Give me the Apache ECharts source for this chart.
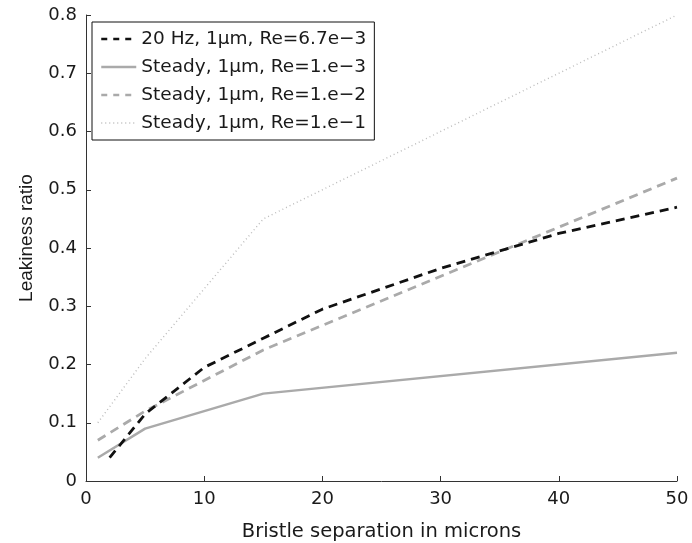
<!DOCTYPE html>
<html>
<head>
<meta charset="utf-8">
<script src="https://cdn.jsdelivr.net/npm/echarts@6/dist/echarts.min.js"></script>
<style>html,body{margin:0;padding:0;background:#fff}#c{width:692px;height:543px}</style>
</head>
<body>
<div id="c"></div>
<script>
// Data
const seriesNames = [
  '20 Hz, 1\u03bcm, Re=6.7e\u22123',
  'Steady, 1\u03bcm, Re=1.e\u22123',
  'Steady, 1\u03bcm, Re=1.e\u22122',
  'Steady, 1\u03bcm, Re=1.e\u22121'
];
const x20Hz = [2, 5, 10, 15, 20, 30, 40, 50];
const y20Hz = [0.04, 0.115, 0.195, 0.245, 0.295, 0.365, 0.425, 0.47];
const xSteady = [1, 5, 15, 50];
const ySteadyRe3 = [0.04, 0.09, 0.15, 0.22];
const ySteadyRe2 = [0.07, 0.12, 0.225, 0.52];
const ySteadyRe1 = [0.10, 0.21, 0.45, 0.80];
const xTicks = [0, 10, 20, 30, 40, 50];
const yTicks = [0, 0.1, 0.2, 0.3, 0.4, 0.5, 0.6, 0.7, 0.8];

const pair = (xs, ys) => xs.map((x, i) => [x, ys[i]]);
const FONT = 'DejaVu Sans';
const axisColor = '#333';
const hiddenSymbol = {color: 'rgba(0,0,0,0)', opacity: 0, borderWidth: 0};

const chart = echarts.init(document.getElementById('c'), null, {renderer: 'canvas'});
chart.setOption({
  animation: false,
  backgroundColor: '#fff',
  grid: {left: 86, right: 15, top: 15, bottom: 62, containLabel: false, outerBoundsMode: 'none'},
  xAxis: {
    type: 'value',
    min: xTicks[0], max: xTicks[xTicks.length - 1], interval: 10,
    name: 'Bristle separation in microns',
    nameLocation: 'middle', nameGap: 41,
    nameTextStyle: {fontFamily: FONT, fontSize: 19.5, color: '#1a1a1a'},
    axisLine: {show: true, lineStyle: {color: axisColor, width: 1}},
    axisTick: {show: true, inside: true, length: 5, lineStyle: {color: axisColor}},
    axisLabel: {fontFamily: FONT, fontSize: 18, color: '#1a1a1a', margin: 9},
    splitLine: {show: false}
  },
  yAxis: {
    type: 'value',
    min: yTicks[0], max: yTicks[yTicks.length - 1], interval: 0.1,
    name: 'Leakiness ratio',
    nameLocation: 'middle', nameGap: 50,
    nameTextStyle: {fontFamily: 'Liberation Sans', fontSize: 19, color: '#1a1a1a', padding: [0, 0, 0, 20]},
    axisLine: {show: true, lineStyle: {color: axisColor, width: 1}},
    axisTick: {show: true, inside: true, length: 5, lineStyle: {color: axisColor}},
    axisLabel: {fontFamily: FONT, fontSize: 18, color: '#1a1a1a', margin: 9},
    splitLine: {show: false}
  },
  legend: {
    orient: 'vertical',
    left: 92, top: 22,
    padding: [7, 8, 7, 8],
    itemWidth: 35, itemHeight: 14, itemGap: 8,
    borderColor: '#111', borderWidth: 1,
    backgroundColor: '#fff',
    textStyle: {fontFamily: FONT, fontSize: 18.5, color: '#1a1a1a', lineHeight: 20},
    data: [
      {name: seriesNames[0], itemStyle: hiddenSymbol, lineStyle: {type: [6, 6], width: 2.5, color: '#111'}},
      {name: seriesNames[1], itemStyle: hiddenSymbol, lineStyle: {type: 'solid', width: 2.5, color: '#aaa'}},
      {name: seriesNames[2], itemStyle: hiddenSymbol, lineStyle: {type: [6, 6], width: 2.5, color: '#aaa'}},
      {name: seriesNames[3], itemStyle: hiddenSymbol, lineStyle: {type: [1, 3], width: 1.3, color: '#bbb'}}
    ]
  },
  series: [
    {
      name: seriesNames[0], type: 'line', symbol: 'none', z: 5,
      data: pair(x20Hz, y20Hz),
      lineStyle: {color: '#111', width: 2.8, type: [9, 6]},
      itemStyle: {color: '#111'}
    },
    {
      name: seriesNames[1], type: 'line', symbol: 'none', z: 3,
      data: pair(xSteady, ySteadyRe3),
      lineStyle: {color: '#aaa', width: 2.5, type: 'solid'},
      itemStyle: {color: '#aaa'}
    },
    {
      name: seriesNames[2], type: 'line', symbol: 'none', z: 4,
      data: pair(xSteady, ySteadyRe2),
      lineStyle: {color: '#aaa', width: 2.8, type: [9, 6]},
      itemStyle: {color: '#aaa'}
    },
    {
      name: seriesNames[3], type: 'line', symbol: 'none', z: 2,
      data: pair(xSteady, ySteadyRe1),
      lineStyle: {color: '#bbb', width: 1.4, type: [1, 3]},
      itemStyle: {color: '#bbb'}
    }
  ]
});
</script>
</body>
</html>
